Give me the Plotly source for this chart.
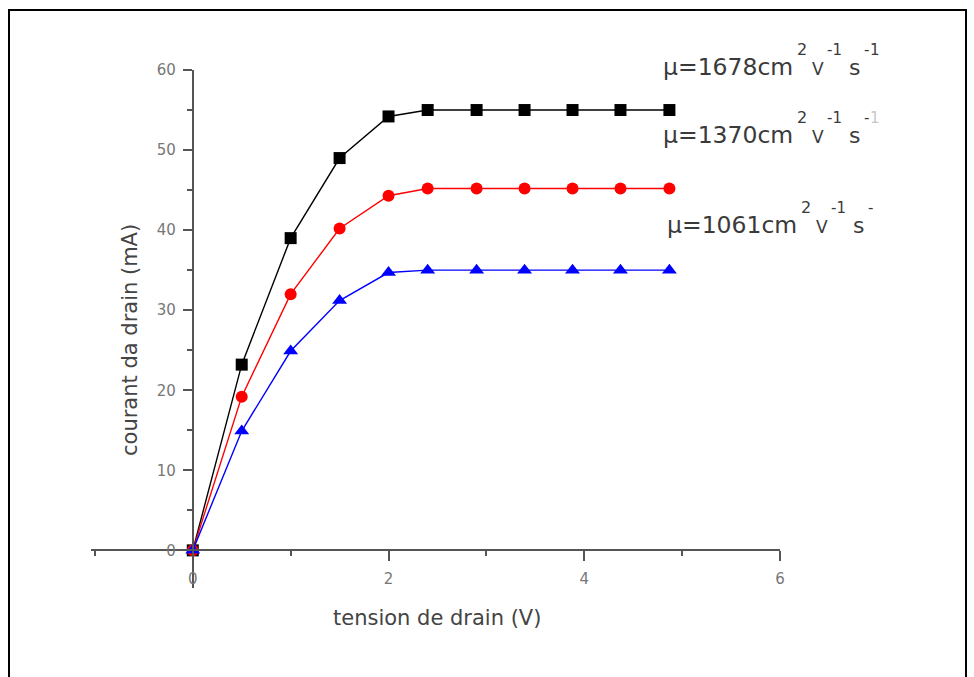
import plotly.graph_objects as go

# Drain voltage (V) and drain current (mA) for three carrier mobilities
v_drain = [0, 0.5, 1.0, 1.5, 2.0, 2.4, 2.9, 3.39, 3.88, 4.37, 4.87]
i_1678 = [0, 23.2, 39.0, 49.0, 54.2, 55.0, 55.0, 55.0, 55.0, 55.0, 55.0]
i_1370 = [0, 19.2, 32.0, 40.2, 44.3, 45.2, 45.2, 45.2, 45.2, 45.2, 45.2]
i_1061 = [0, 14.9, 24.9, 31.2, 34.7, 35.0, 35.0, 35.0, 35.0, 35.0, 35.0]

mobility_labels = ["1678", "1370", "1061"]
x_title = "tension de drain (V)"
y_title = "courant da drain (mA)"

# Figure geometry (pixels)
W, H = 974, 677
ML, MR, MT, MB = 91, 194, 70, 89
PW, PH = W - ML - MR, H - MT - MB

X_RANGE = [-1.04, 6.0]
Y_RANGE = [-4.7, 60.0]

AXIS_COLOR = "#555555"
TICK_FONT = dict(family="DejaVu Sans", size=15, color="#777777")
TEXT_COLOR = "#3a3a3a"


def px_x(px):
    return (px - ML) / PW


def px_y(py):
    return (MT + PH - py) / PH


def piece(text, x_px, base_px, size, color=TEXT_COLOR):
    """Left-aligned text whose baseline sits at base_px."""
    descent = 0.236 * size
    return dict(
        text=text, xref="paper", yref="paper",
        x=px_x(x_px), y=px_y(base_px + descent),
        xanchor="left", yanchor="bottom", showarrow=False,
        borderpad=0, borderwidth=0,
        font=dict(family="DejaVu Sans", size=size, color=color),
    )


def mobility_label(value, x0, base, last_exp, last_color=TEXT_COLOR):
    sup_base = base - 20
    parts = [
        piece("\u03bc=" + value + "cm", x0, base, 23.5),
        piece("2", x0 + 134, sup_base, 16),
        piece("V", x0 + 149, base, 17),
        piece("-1", x0 + 164, sup_base, 15),
        piece("s", x0 + 186, base, 22),
        piece("-", x0 + 201, sup_base, 15),
    ]
    if last_exp:
        parts.append(piece("1", x0 + 207, sup_base, 15, last_color))
    return parts


fig = go.Figure()

series = [
    (i_1678, "#000000", "square", 12),
    (i_1370, "#ff0000", "circle", 12),
    (i_1061, "#0000ff", "triangle-up", 13),
]
for values, color, symbol, size in series:
    fig.add_trace(go.Scatter(
        x=v_drain, y=values, mode="lines+markers",
        line=dict(color=color, width=1.4),
        marker=dict(color=color, symbol=symbol, size=size, line=dict(width=0)),
        showlegend=False, hoverinfo="skip",
    ))

annotations = []
annotations += mobility_label(mobility_labels[0], 663, 75, True)
annotations += mobility_label(mobility_labels[1], 663, 143, True, "#c8c8c8")
annotations += mobility_label(mobility_labels[2], 667, 233, False)

# Axis titles
annotations.append(dict(
    text=x_title, xref="paper", yref="paper",
    x=px_x(437), y=px_y(618), xanchor="center", yanchor="middle",
    showarrow=False, font=dict(family="DejaVu Sans", size=21, color="#444444"),
))
annotations.append(dict(
    text=y_title, xref="paper", yref="paper",
    x=px_x(130), y=px_y(340), xanchor="center", yanchor="middle",
    textangle=-90, showarrow=False,
    font=dict(family="DejaVu Sans", size=21, color="#444444"),
))

# Outer frame
shapes = [dict(
    type="rect", xref="paper", yref="paper",
    x0=px_x(9), x1=px_x(966), y0=px_y(700), y1=px_y(10),
    line=dict(color="#000000", width=2), fillcolor="rgba(0,0,0,0)",
    layer="below",
)]

fig.update_layout(
    width=W, height=H,
    margin=dict(l=ML, r=MR, t=MT, b=MB),
    paper_bgcolor="white", plot_bgcolor="white",
    annotations=annotations, shapes=shapes,
    xaxis=dict(
        range=X_RANGE, tick0=0, dtick=2,
        anchor="free", position=(0 - Y_RANGE[0]) / (Y_RANGE[1] - Y_RANGE[0]),
        showline=True, linecolor=AXIS_COLOR, linewidth=2,
        ticks="outside", ticklen=10, tickwidth=1.6, tickcolor=AXIS_COLOR,
        minor=dict(ticks="outside", dtick=1, tick0=0, ticklen=5,
                   tickwidth=1.6, tickcolor=AXIS_COLOR),
        showgrid=False, zeroline=False, tickfont=TICK_FONT,
        ticklabelstandoff=5,
    ),
    yaxis=dict(
        range=Y_RANGE, tick0=0, dtick=10,
        anchor="free", position=(0 - X_RANGE[0]) / (X_RANGE[1] - X_RANGE[0]),
        showline=True, linecolor=AXIS_COLOR, linewidth=2,
        ticks="outside", ticklen=9, tickwidth=1.6, tickcolor=AXIS_COLOR,
        minor=dict(ticks="outside", dtick=5, tick0=0, ticklen=5,
                   tickwidth=1.6, tickcolor=AXIS_COLOR),
        showgrid=False, zeroline=False, tickfont=TICK_FONT,
        ticklabelstandoff=4,
    ),
)

fig.write_html("out.html")
